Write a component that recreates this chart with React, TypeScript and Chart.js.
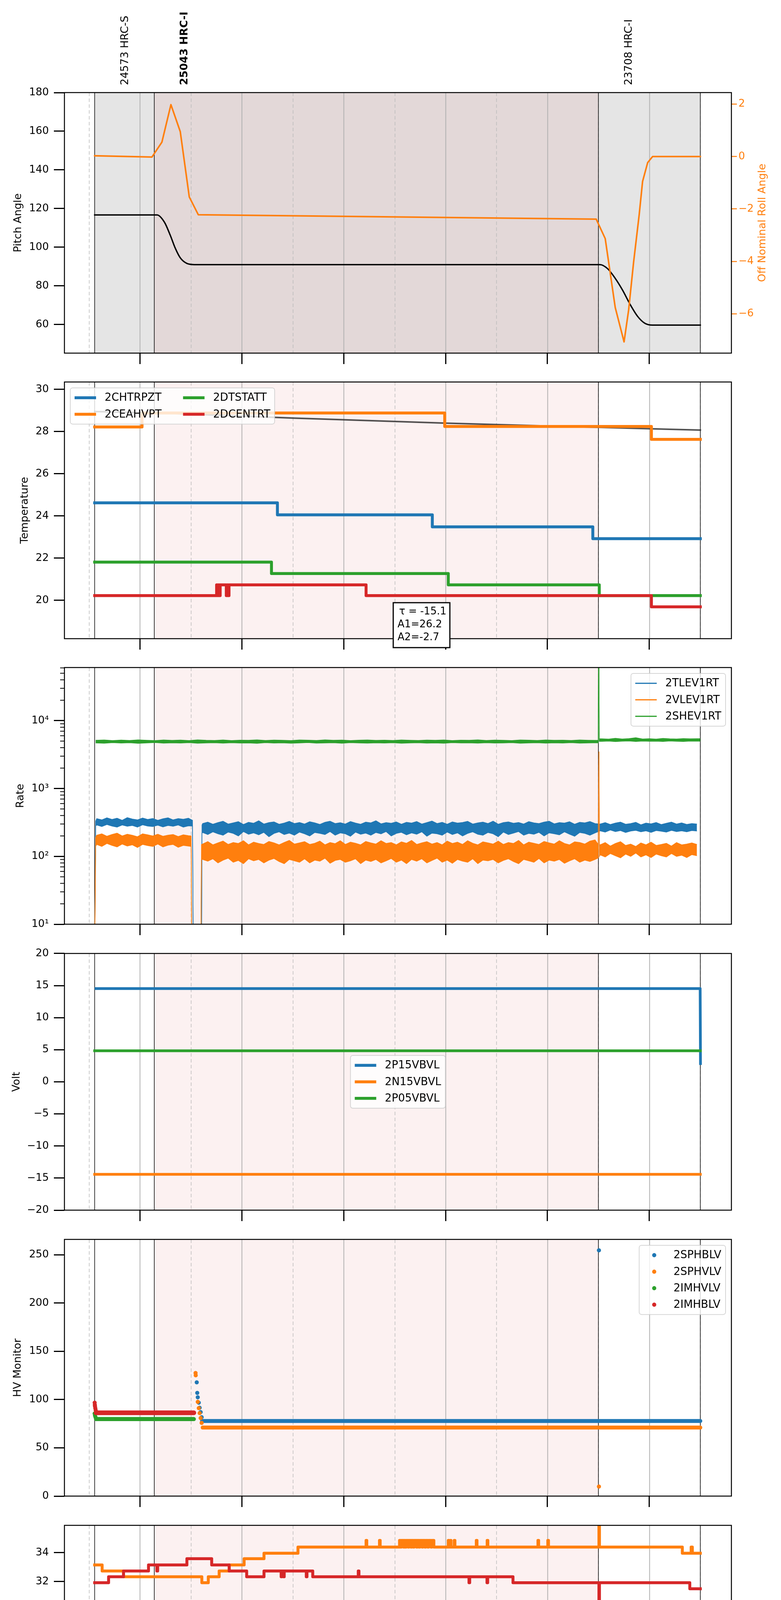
import React, { useEffect, useRef } from 'react';
import { Chart, registerables } from 'chart.js';
import type { ChartConfiguration, Plugin } from 'chart.js';

Chart.register(...registerables);

const FONT = 'DejaVu Sans';
Chart.defaults.font.family = FONT;
Chart.defaults.color = '#000';

const BLUE = '#1f77b4';
const ORANGE = '#ff7f0e';
const GREEN = '#2ca02c';
const RED = '#d62728';

type Pt = [number, number];

// time axis: minutes after 00:00 on 2021-05-23
const X_MIN = 315.6;
const X_MAX = 708.3;
const xTicks = [330, 360, 390, 420, 450, 480, 510, 540, 570, 600, 630, 660, 690];
const xTickLabels = ['30', '06h', '30', '07h', '30', '08h', '30', '09h', '30', '10h', '30', '11h', '30'];
const obsStarts = [333.4, 368.5, 630.0];
const obsEnd = 690;
const obsLabels = ['24573 HRC-S', '25043 HRC-I', '23708 HRC-I'];

// ---- panel 1: attitude
const pitchTicks = [60, 80, 100, 120, 140, 160, 180];
const rollTicks = [-6, -4, -2, 0, 2];
const pitch: Pt[] = [[333.4, 116.7], [370.1, 116.7], [374.5, 112.9], [377.9, 106.2], [380.9, 99.4], [383.8, 94.5], [387.7, 91.6], [392, 91.0], [631, 91.0], [635.4, 88.9], [639.8, 84.0], [644.2, 77.8], [648.6, 70.5], [653, 64.3], [657.4, 60.6], [661.8, 59.7], [690, 59.7]];
const roll: Pt[] = [[333.4, 0.03], [367.1, -0.02], [373.0, 0.55], [378.3, 1.98], [383.8, 0.95], [389.1, -1.54], [394.4, -2.22], [628.7, -2.39], [634.0, -3.13], [639.9, -5.76], [645.1, -7.07], [647.8, -5.85], [650.7, -4.04], [654.0, -2.22], [656.0, -0.95], [659.0, -0.23], [661.9, 0], [690, 0]];

// ---- panel 2: temperature
const tempTicks = [20, 22, 24, 26, 28, 30];
const chtrpzt: Pt[] = [[333.4, 24.62], [441.0, 24.05], [532.2, 23.48], [626.7, 22.92], [690, 22.92]];
const ceahvpt: Pt[] = [[333.4, 28.22], [361.3, 28.88], [539.5, 28.24], [661.2, 27.63], [690, 27.63]];
const dtstatt: Pt[] = [[333.4, 21.81], [437.5, 21.27], [541.6, 20.73], [630.5, 20.22], [690, 20.22]];
const dcentrt: Pt[] = [[333.4, 20.22], [405.2, 20.73], [405.7, 20.22], [406.2, 20.73], [406.8, 20.22], [407.3, 20.73], [410.9, 20.22], [411.4, 20.73], [412.0, 20.22], [412.5, 20.73], [493.2, 20.22], [661.2, 19.69], [690, 19.69]];
const tempFit: Pt[] = [[333.4, 28.95], [389, 28.83], [450, 28.64], [540, 28.40], [630, 28.2], [690, 28.07]];
const fitText = ['\u03c4 = -15.1', 'A1=26.2', 'A2=-2.7'];

// ---- panel 3: rates (upper and lower edge of the noise band)
const rateTicks = [10, 100, 1000, 10000];
const rateTickLabels = ['10\u00b9', '10\u00b2', '10\u00b3', '10\u2074'];
const tlevHiA = [360, 345, 370, 350, 365, 340, 372, 355, 345, 368, 350, 362, 340, 358, 370, 345, 360, 352, 365];
const tlevLoA = [290, 275, 295, 280, 270, 290, 278, 285, 270, 292, 280, 275, 288, 272, 285, 278, 290, 270, 282];
const tlevHiB = [305, 320, 298, 315, 330, 300, 312, 325, 295, 318, 308, 335, 300, 315, 322, 298, 310, 328, 305, 316,
  300, 324, 312, 296, 318, 330, 305, 314, 300, 326, 310, 298, 320, 312, 335, 302, 315, 308, 322, 298,
  318, 310, 326, 300, 315, 332, 305, 318, 298, 322, 310, 316, 328, 300, 312, 320, 305, 330, 298, 315,
  322, 308, 316, 300, 325, 312, 305, 320, 330, 302, 315, 310, 324, 298, 318, 312, 326, 305];
const tlevLoB = [225, 210, 230, 215, 205, 228, 218, 200, 232, 212, 222, 208, 226, 195, 218, 230, 210, 220, 205, 228,
  215, 200, 225, 218, 210, 232, 205, 222, 215, 198, 228, 212, 220, 205, 225, 215, 232, 200, 218, 226,
  208, 222, 212, 230, 198, 220, 215, 205, 228, 210, 222, 200, 218, 230, 212, 205, 225, 215, 195, 228,
  210, 220, 232, 205, 218, 212, 226, 200, 222, 215, 208, 230, 212, 198, 225, 218, 205, 222];
const tlevHiC = [300, 315, 295, 310, 320, 298, 305, 318, 292, 310, 302, 316, 295, 308, 320, 300, 312, 296, 305, 300];
const tlevLoC = [238, 228, 245, 232, 240, 225, 236, 242, 230, 238, 226, 240, 235, 228, 242, 232, 238, 230, 240, 236];
const vlevHiA = [205, 215, 198, 210, 220, 200, 212, 205, 195, 215, 208, 200, 212, 198, 205, 210, 196, 208, 202];
const vlevLoA = [150, 140, 155, 145, 138, 152, 142, 148, 135, 150, 144, 140, 152, 138, 146, 150, 136, 145, 142];
const vlevHiB = [152, 165, 148, 158, 168, 150, 160, 155, 170, 148, 162, 155, 150, 166, 158, 148, 160, 172, 152, 158,
  165, 150, 156, 168, 148, 160, 154, 170, 150, 162, 156, 148, 166, 158, 152, 170, 155, 160, 148, 164,
  156, 172, 150, 158, 165, 152, 160, 148, 168, 155, 162, 150, 170, 156, 148, 164, 158, 152, 168, 150,
  160, 155, 172, 148, 162, 156, 150, 166, 158, 152, 170, 155, 148, 164, 160, 152, 168, 175];
const vlevLoB = [90, 85, 92, 80, 88, 94, 82, 87, 78, 92, 86, 90, 80, 88, 93, 84, 78, 90, 86, 82,
  92, 80, 88, 85, 94, 79, 87, 90, 82, 86, 92, 78, 88, 84, 90, 80, 86, 93, 82, 88,
  78, 90, 85, 92, 80, 87, 94, 82, 88, 79, 90, 85, 82, 92, 78, 88, 86, 90, 80, 87,
  92, 84, 78, 90, 86, 82, 93, 80, 88, 85, 90, 79, 86, 92, 82, 88, 84, 90];
const vlevHiC = [148, 160, 142, 155, 165, 145, 152, 140, 158, 148, 162, 145, 150, 156, 142, 160, 148, 152, 158, 150];
const vlevLoC = [105, 98, 110, 102, 95, 108, 100, 112, 98, 105, 96, 108, 102, 98, 110, 100, 104, 96, 106, 102];
const shevHiA = [5150, 5200, 5100, 5180, 5120, 5220, 5150, 5100, 5200, 5130, 5180, 5100, 5220, 5150, 5120, 5200, 5100, 5170, 5140, 5210,
  5120, 5180, 5150, 5100, 5200, 5160, 5120, 5220, 5140, 5180, 5100, 5160, 5200, 5130, 5170, 5110, 5200, 5150, 5120, 5180,
  5140, 5200, 5100, 5170, 5150, 5210, 5120, 5180, 5140, 5100, 5200, 5160, 5120, 5190, 5140, 5170, 5110, 5200, 5150, 5130];
const shevLoA = [4700, 4650, 4750, 4680, 4720, 4640, 4700, 4760, 4660, 4710, 4680, 4740, 4650, 4700, 4730, 4660, 4720, 4680, 4700, 4640,
  4740, 4680, 4710, 4650, 4700, 4760, 4670, 4700, 4720, 4650, 4740, 4690, 4660, 4710, 4680, 4730, 4650, 4700, 4720, 4670,
  4700, 4650, 4740, 4690, 4710, 4660, 4720, 4680, 4700, 4750, 4650, 4700, 4730, 4670, 4710, 4680, 4740, 4660, 4700, 4720];
const shevHiB = [5400, 5350, 5500, 5380, 5450, 5600, 5380, 5420, 5350, 5480, 5400, 5370, 5450, 5400, 5420];
const shevLoB = [4950, 5000, 4920, 4980, 5020, 4940, 5000, 4960, 4990, 4930, 5010, 4970, 4940, 5000, 4980];

const sampled = (start: number, step: number, vals: number[]): Pt[] => vals.map((v, i) => [start + i * step, v]);

const tlevHi: Pt[] = [[333.4, 3], [334.0, 330], ...sampled(334.6, 3, tlevHiA), [391.0, 340], [391.5, 3], [396.3, 3], [396.6, 290], ...sampled(397, 3, tlevHiB), ...sampled(631, 3, tlevHiC)];
const tlevLo: Pt[] = [[333.4, 3], [334.0, 280], ...sampled(334.6, 3, tlevLoA), [391.0, 280], [391.5, 3], [396.3, 3], [396.6, 220], ...sampled(397, 3, tlevLoB), ...sampled(631, 3, tlevLoC)];
const vlevHi: Pt[] = [[333.4, 3], [334.0, 190], ...sampled(334.6, 3, vlevHiA), [390.2, 200], [390.6, 3], [395.9, 3], [396.3, 150], ...sampled(397, 3, vlevHiB), [629.9, 150], [630.3, 3500], [630.6, 150], ...sampled(631, 3, vlevHiC)];
const vlevLo: Pt[] = [[333.4, 3], [334.0, 140], ...sampled(334.6, 3, vlevLoA), [390.2, 140], [390.6, 3], [395.9, 3], [396.3, 90], ...sampled(397, 3, vlevLoB), [629.9, 95], [630.3, 3500], [630.6, 100], ...sampled(631, 3, vlevLoC)];
const shevHi: Pt[] = [...sampled(334, 5, shevHiA), [629.9, 5150], [630.2, 300000], [630.5, 5400], ...sampled(632, 4, shevHiB), [690, 5420]];
const shevLo: Pt[] = [...sampled(334, 5, shevLoA), [629.9, 4700], [630.2, 300000], [630.5, 4950], ...sampled(632, 4, shevLoB), [690, 4980]];

// ---- panel 4: voltages
const voltTicks = [-20, -15, -10, -5, 0, 5, 10, 15, 20];
const p15vbvl: Pt[] = [[333.4, 14.53], [689.9, 14.53], [690.1, 2.63]];
const n15vbvl: Pt[] = [[333.4, -14.42], [690, -14.42]];
const p05vbvl: Pt[] = [[333.4, 4.83], [690, 4.83]];

// ---- panel 5: HV monitor
const hvTicks = [0, 50, 100, 150, 200, 250];
const sphblvBand: Pt[] = [[396.6, 77.8], [690, 77.8]];
const sphblvPts: Pt[] = [[393.5, 117.9], [393.8, 107.0], [394.1, 102.4], [394.7, 96.8], [395.2, 91.6], [395.8, 87.0], [396.4, 81.8], [630.3, 254.7]];
const sphvlvBand: Pt[] = [[397.0, 71.0], [690, 71.0]];
const sphvlvPts: Pt[] = [[392.8, 127.6], [392.9, 125.2], [394.1, 97.7], [394.7, 91.2], [395.2, 86.0], [395.8, 80.9], [396.4, 75.9], [630.3, 9.9]];
const imhvlvBand: Pt[] = [[334.2, 79.8], [391.8, 79.8]];
const imhvlvPts: Pt[] = [[333.4, 85.6], [333.6, 83.5], [333.9, 81.8]];
const imhblvBand: Pt[] = [[334.2, 86.3], [391.8, 86.3]];
const imhblvPts: Pt[] = [[333.4, 96.8], [333.5, 94.5], [333.6, 93.0], [333.8, 91.0], [334.0, 89.0]];

// ---- panel 6: detector temperatures
const detTicks = [20, 22, 24, 26, 28, 30, 32, 34];
const spinatm: Pt[] = [[333.4, 19.61], [690, 19.61]];
const sphvatm: Pt[] = [[333.4, 33.15], [337.8, 32.73], [350.4, 32.33], [396.5, 31.92], [400.3, 32.33], [406.7, 32.73], [412.6, 33.15], [421.4, 33.58], [433.1, 33.96], [453.1, 34.39],
  [493.2, 34.85], [493.6, 34.39], [501.1, 34.85], [501.5, 34.39],
  [512.9, 34.85], [513.5, 34.39], [514.0, 34.85], [515.2, 34.39], [515.6, 34.85], [516.3, 34.39], [516.8, 34.85], [518.0, 34.39], [518.4, 34.85], [519.6, 34.39], [520.0, 34.85], [521.0, 34.39], [521.5, 34.85], [522.9, 34.39], [523.3, 34.85], [524.4, 34.39], [524.9, 34.85], [526.2, 34.39], [526.6, 34.85], [527.8, 34.39], [528.3, 34.85], [529.5, 34.39], [530.0, 34.85], [531.4, 34.39], [531.9, 34.85], [533.1, 34.39],
  [541.6, 34.85], [542.0, 34.39], [542.8, 34.85], [543.2, 34.39], [545.1, 34.85], [545.5, 34.39],
  [558.1, 34.85], [558.5, 34.39], [564.5, 34.85], [564.9, 34.39], [594.4, 34.85], [594.8, 34.39], [600.2, 34.85], [600.6, 34.39],
  [630.3, 40], [630.6, 34.39], [679.4, 33.96], [684.6, 34.39], [685.3, 33.96], [690, 33.96]];
const iminatm: Pt[] = [[333.4, 21.0], [579.7, 20.3], [580.3, 21.0], [581.2, 20.3], [581.8, 21.0], [583.0, 20.3], [583.6, 21.0], [585.2, 20.3], [690, 20.3]];
const imhvatm: Pt[] = [[333.4, 31.92], [341.6, 32.33], [350.4, 32.73], [365.1, 33.15], [370.0, 32.73], [370.5, 33.15], [387.7, 33.58], [402.3, 33.15], [412.6, 32.73], [422.9, 32.33], [433.1, 32.73],
  [443.2, 32.33], [443.6, 32.73], [444.6, 32.33], [445.0, 32.73], [458.0, 32.33], [458.4, 32.73], [461.8, 32.33], [488.6, 32.73], [489.0, 32.33],
  [553.8, 31.92], [554.2, 32.33], [564.4, 31.92], [564.8, 32.33], [579.7, 31.92], [630.3, 10], [630.6, 31.92], [683.8, 31.5], [690, 31.5]];

// ---- panel 7: FEA temperatures
const feaTicks = [16, 18, 20, 22, 24, 26];
const fhtrmzt: Pt[] = [[333.4, 24.63], [396.5, 24.05], [453.1, 23.49], [510.8, 22.93], [576.8, 22.37], [664.8, 21.8], [690, 21.8]];
const fradpyt: Pt[] = [[333.4, 20.21], [346.0, 19.68], [387.1, 19.16], [424.3, 18.67], [471.2, 18.15], [527.5, 17.66], [590.9, 17.16], [648.6, 17.66], [653.6, 17.16], [675.0, 16.67], [690, 16.67]];
const fepratm: Pt[] = [[333.4, 26.18], [418.4, 25.4], [510.8, 24.63], [607.8, 23.88], [608.3, 24.63], [608.8, 23.88], [609.4, 24.63], [610.0, 23.88], [630.3, 30], [630.6, 23.88], [690, 23.88]];
const fe00atm: Pt[] = [[333.4, 23.96], [336.3, 24.63], [336.7, 23.96], [339.3, 25.34], [339.7, 23.96], [341.6, 22.95], [342.0, 23.96], [342.8, 23.63], [343.2, 23.96],
  [349.8, 24.3], [350.2, 23.96], [361.0, 25.34], [361.4, 23.96], [386.2, 24.3], [386.6, 23.96], [388.3, 23.63], [388.7, 23.96], [397.3, 23.63],
  [404.4, 23.96], [404.8, 23.63], [407.9, 23.96], [408.3, 23.63], [427.8, 22.63], [428.2, 23.63], [439.0, 22.95], [439.4, 23.63], [440.4, 23.3],
  [442.8, 23.63], [443.2, 23.3], [445.7, 23.63], [446.1, 23.3], [464.5, 22.95], [464.9, 23.3], [475.0, 23.65], [475.4, 23.3], [478.3, 22.95], [478.7, 23.3],
  [483.0, 23.0], [489.4, 24.0], [489.8, 23.0], [492.3, 23.3], [492.7, 23.0], [502.0, 23.65], [502.4, 23.0], [505.2, 21.66], [505.6, 23.0],
  [527.0, 22.68], [536.9, 23.0], [537.3, 22.68], [539.5, 23.0], [539.9, 22.68], [550.4, 22.3], [550.8, 22.68], [552.7, 23.0], [553.1, 22.68],
  [556.3, 22.3], [556.7, 22.68], [566.5, 23.37], [566.9, 22.68], [569.2, 21.66], [569.6, 22.68], [575.3, 22.37],
  [585.0, 22.7], [585.4, 22.37], [587.9, 22.7], [588.3, 22.37], [589.7, 21.95], [590.1, 22.37], [591.1, 23.37], [591.5, 22.37],
  [593.8, 23.0], [594.2, 22.37], [599.1, 21.95], [599.5, 22.37], [628.1, 22.0], [628.6, 22.37], [629.2, 22.0], [630.3, 10], [630.6, 22.0], [690, 22.0]];

// ---------------------------------------------------------------

const toXY = (pts: Pt[]) => pts.map(([x, y]) => ({ x, y }));
const fmt = (v: number) => (v < 0 ? '\u2212' + Math.abs(v) : String(v));

function line(pts: Pt[], color: string, width: number, extra: any = {}) {
  return {
    data: toXY(pts),
    borderColor: color,
    backgroundColor: color,
    borderWidth: width,
    pointRadius: 0,
    fill: false,
    clip: 0,
    borderJoinStyle: 'round',
    borderCapStyle: 'square',
    ...extra,
  };
}
const step = (pts: Pt[], color: string, width = 7.5) => line(pts, color, width, { stepped: 'before' });
const dots = (pts: Pt[], color: string) => ({
  data: toXY(pts), showLine: false, pointRadius: 5.3, pointBorderWidth: 0,
  pointBackgroundColor: color, backgroundColor: color, borderColor: color, clip: 0,
});
// noise band: upper edge filled down to the lower edge
const band = (hi: Pt[], lo: Pt[], color: string) => [
  line(hi, color, 1.6, { fill: '+1', borderCapStyle: 'butt', borderJoinStyle: 'miter' }),
  line(lo, color, 1.6, { borderCapStyle: 'butt', borderJoinStyle: 'miter' }),
];

function xAxis(labels: boolean, height: number) {
  return {
    type: 'linear',
    min: X_MIN,
    max: X_MAX,
    position: 'bottom',
    afterBuildTicks: (s: any) => { s.ticks = xTicks.map((v) => ({ value: v })); },
    afterFit: (s: any) => { s.height = height; },
    border: { display: false },
    grid: {
      drawOnChartArea: false,
      tickLength: 28,
      tickWidth: 3,
      tickColor: (c: any) => (c.tick && c.tick.value % 60 === 0 ? '#000' : 'rgba(0,0,0,0)'),
    },
    ticks: {
      autoSkip: false,
      maxRotation: 0,
      padding: -23.5,
      color: '#000',
      font: (c: any) => (c.tick && c.tick.value % 60 === 0
        ? { family: FONT, size: 26.5, lineHeight: 1.13 }
        : { family: FONT, size: 18, lineHeight: 1.2 }),
      callback: (v: any) => {
        if (!labels) return '';
        const i = xTicks.indexOf(Number(v));
        if (i < 0) return '';
        return Number(v) % 60 === 0 ? ['', xTickLabels[i]] : xTickLabels[i];
      },
    },
    title: labels
      ? { display: true, text: '2021-05-23 (143)', color: '#000', font: { family: FONT, size: 36 }, padding: { top: 0, bottom: 0 } }
      : { display: false },
  };
}

function yAxis(min: number, max: number, ticks: number[], title: string, titlePad: number, type = 'linear', labels?: string[]) {
  return {
    type,
    min,
    max,
    position: 'left',
    afterBuildTicks: (s: any) => { s.ticks = ticks.map((v) => ({ value: v })); },
    afterFit: (s: any) => { s.width = 165; },
    border: { display: false },
    grid: { drawOnChartArea: false, tickLength: 27, tickWidth: 3, tickColor: '#000' },
    ticks: {
      autoSkip: false,
      padding: 13,
      color: '#000',
      font: { family: FONT, size: 26.5 },
      callback: (v: any) => {
        if (labels) { const i = ticks.indexOf(Number(v)); return i < 0 ? '' : labels[i]; }
        return fmt(Number(v));
      },
    },
    title: { display: true, text: title, color: '#000', font: { family: FONT, size: 27 }, padding: { top: titlePad, bottom: 0 } },
  };
}

function roundRect(ctx: CanvasRenderingContext2D, x: number, y: number, w: number, h: number, r: number) {
  ctx.beginPath();
  ctx.moveTo(x + r, y);
  ctx.lineTo(x + w - r, y);
  ctx.arcTo(x + w, y, x + w, y + r, r);
  ctx.lineTo(x + w, y + h - r);
  ctx.arcTo(x + w, y + h, x + w - r, y + h, r);
  ctx.lineTo(x + r, y + h);
  ctx.arcTo(x, y + h, x, y + h - r, r);
  ctx.lineTo(x, y + r);
  ctx.arcTo(x, y, x + r, y, r);
  ctx.closePath();
}

// shaded observation spans, time grid, obs boundaries and the axes frame
function decorPlugin(topPanel: boolean): Plugin {
  return {
    id: 'decor',
    beforeDatasetsDraw(chart: any) {
      const { ctx, chartArea: a } = chart;
      const px = (t: number) => chart.scales.x.getPixelForValue(t);
      ctx.save();
      ctx.beginPath();
      ctx.rect(a.left, a.top, a.width, a.height);
      ctx.clip();
      if (topPanel) {
        ctx.fillStyle = '#e5e5e5';
        ctx.fillRect(px(obsStarts[0]), a.top, px(obsEnd) - px(obsStarts[0]), a.height);
      }
      ctx.fillStyle = 'rgba(214,39,40,0.065)';
      ctx.fillRect(px(obsStarts[1]), a.top, px(obsStarts[2]) - px(obsStarts[1]), a.height);
      for (const t of xTicks) {
        const x = Math.round(px(t)) + 0.5;
        ctx.beginPath();
        if (t % 60 === 0) {
          ctx.setLineDash([]);
          ctx.strokeStyle = '#b0b0b0';
          ctx.lineWidth = 2;
        } else {
          ctx.setLineDash([9, 6]);
          ctx.strokeStyle = '#bababa';
          ctx.lineWidth = 1.5;
        }
        ctx.moveTo(x, a.top);
        ctx.lineTo(x, a.bottom);
        ctx.stroke();
      }
      ctx.setLineDash([]);
      ctx.strokeStyle = '#000';
      ctx.lineWidth = 1.5;
      for (const t of [...obsStarts, obsEnd]) {
        const x = px(t);
        ctx.beginPath();
        ctx.moveTo(x, a.top);
        ctx.lineTo(x, a.bottom);
        ctx.stroke();
      }
      ctx.restore();
    },
    afterDatasetsDraw(chart: any) {
      const { ctx, chartArea: a } = chart;
      ctx.save();
      ctx.strokeStyle = '#000';
      ctx.lineWidth = 2.5;
      ctx.strokeRect(a.left, a.top, a.width, a.height);
      ctx.restore();
    },
  };
}

type LegendItem = { label: string; color: string; lw?: number; dot?: boolean };

function legendPlugin(items: LegendItem[], loc: 'upper left' | 'upper right' | 'center' | 'center right', ncol = 1): Plugin {
  return {
    id: 'mplLegend',
    afterDraw(chart: any) {
      const { ctx, chartArea: a } = chart;
      const em = 27.5;
      const pad = 0.4 * em, rowH = 28.5, gap = 0.5 * em, hl = 2 * em, hp = 0.8 * em, cs = 2 * em, ax = 15;
      ctx.save();
      ctx.font = `${em}px ${FONT}`;
      const nrow = Math.ceil(items.length / ncol);
      const colW: number[] = [];
      for (let c = 0; c < ncol; c++) {
        let w = 0;
        for (let r = 0; r < nrow; r++) {
          const it = items[c * nrow + r];
          if (it) w = Math.max(w, ctx.measureText(it.label).width);
        }
        colW.push(hl + hp + w);
      }
      const bw = 2 * pad + colW.reduce((s, w) => s + w, 0) + (ncol - 1) * cs;
      const bh = 2 * pad + nrow * rowH + (nrow - 1) * gap;
      let bx = a.left + ax;
      let by = a.top + ax;
      if (loc === 'upper right' || loc === 'center right') bx = a.right - ax - bw;
      if (loc === 'center') bx = (a.left + a.right) / 2 - bw / 2;
      if (loc === 'center' || loc === 'center right') by = (a.top + a.bottom) / 2 - bh / 2;
      roundRect(ctx, bx, by, bw, bh, 6);
      ctx.fillStyle = 'rgba(255,255,255,0.8)';
      ctx.fill();
      ctx.strokeStyle = 'rgba(204,204,204,0.8)';
      ctx.lineWidth = 2;
      ctx.stroke();
      ctx.textAlign = 'left';
      ctx.textBaseline = 'middle';
      let cx = bx + pad;
      for (let c = 0; c < ncol; c++) {
        for (let r = 0; r < nrow; r++) {
          const it = items[c * nrow + r];
          if (!it) continue;
          const cy = by + pad + r * (rowH + gap) + rowH / 2;
          if (it.dot) {
            ctx.fillStyle = it.color;
            ctx.beginPath();
            ctx.arc(cx + hl / 2, cy, 5.3, 0, Math.PI * 2);
            ctx.fill();
          } else {
            ctx.strokeStyle = it.color;
            ctx.lineWidth = it.lw ?? 7.5;
            ctx.beginPath();
            ctx.moveTo(cx, cy);
            ctx.lineTo(cx + hl, cy);
            ctx.stroke();
          }
          ctx.fillStyle = '#000';
          ctx.fillText(it.label, cx + hl + hp, cy + 1);
        }
        cx += colW[c] + cs;
      }
      ctx.restore();
    },
  };
}

const topLabelsPlugin: Plugin = {
  id: 'topLabels',
  afterDraw(chart: any) {
    const { ctx, chartArea: a } = chart;
    const xs = chart.scales.x;
    ctx.save();
    ctx.fillStyle = '#000';
    ctx.textAlign = 'left';
    ctx.textBaseline = 'middle';
    obsStarts.forEach((s, i) => {
      ctx.save();
      ctx.translate(xs.getPixelForValue(s + 18), a.top - 19);
      ctx.rotate(-Math.PI / 2);
      ctx.font = `${i === 1 ? 'bold ' : ''}27px ${FONT}`;
      ctx.fillText(obsLabels[i], 0, 0);
      ctx.restore();
    });
    ctx.save();
    ctx.translate(1953, (a.top + a.bottom) / 2);
    ctx.rotate(-Math.PI / 2);
    ctx.textAlign = 'center';
    ctx.fillStyle = ORANGE;
    ctx.font = `27px ${FONT}`;
    ctx.fillText('Off Nominal Roll Angle', 0, 0);
    ctx.restore();
    ctx.restore();
  },
};

const fitBoxPlugin: Plugin = {
  id: 'fitBox',
  afterDraw(chart: any) {
    const { ctx, chartArea: a } = chart;
    const x = a.left + 842;
    const y = a.top + 565;
    ctx.save();
    ctx.fillStyle = '#fff';
    ctx.fillRect(x, y, 145, 115);
    ctx.strokeStyle = '#000';
    ctx.lineWidth = 3;
    ctx.strokeRect(x, y, 145, 115);
    ctx.fillStyle = '#000';
    ctx.font = `26px ${FONT}`;
    ctx.textAlign = 'left';
    ctx.textBaseline = 'middle';
    fitText.forEach((t, i) => ctx.fillText(t, x + (i === 0 ? 15 : 11), y + 23 + i * 33));
    ctx.restore();
  },
};

const logMinorPlugin: Plugin = {
  id: 'logMinor',
  afterDraw(chart: any) {
    const { ctx, chartArea: a } = chart;
    const ys = chart.scales.y;
    ctx.save();
    ctx.strokeStyle = '#000';
    ctx.lineWidth = 2;
    for (const d of rateTicks) {
      for (let m = 2; m <= 9; m++) {
        const v = d * m;
        if (v > ys.max) continue;
        const y = ys.getPixelForValue(v);
        ctx.beginPath();
        ctx.moveTo(a.left - 11, y);
        ctx.lineTo(a.left, y);
        ctx.stroke();
      }
    }
    ctx.restore();
  },
};

interface PanelSpec {
  areaTop: number;
  areaH: number;
  padTop: number;
  xH: number;
  config: () => ChartConfiguration;
}

function baseOptions(padTop: number, padRight: number, scales: any): any {
  return {
    responsive: false,
    animation: false,
    devicePixelRatio: 1,
    events: [],
    layout: { padding: { left: 0, right: padRight, top: padTop, bottom: 0 } },
    plugins: { legend: { display: false }, tooltip: { enabled: false } },
    scales,
  };
}

function ordered(ds: any[]) {
  return ds.map((d, i) => ({ ...d, order: ds.length - i }));
}

const panels: PanelSpec[] = [
  {
    areaTop: 237, areaH: 667, padTop: 237, xH: 40,
    config: () => ({
      type: 'line',
      data: {
        datasets: ordered([
          line(pitch, '#000', 3.5, { yAxisID: 'y', cubicInterpolationMode: 'monotone' }),
          line(roll, ORANGE, 4, { yAxisID: 'y1' }),
        ]),
      },
      options: baseOptions(237, 0, {
        x: xAxis(false, 40),
        y: yAxis(45.2, 180, pitchTicks, 'Pitch Angle', 31),
        y1: {
          type: 'linear', min: -7.5, max: 2.44, position: 'right',
          afterBuildTicks: (s: any) => { s.ticks = rollTicks.map((v) => ({ value: v })); },
          afterFit: (s: any) => { s.width = 127; },
          border: { display: false },
          grid: { drawOnChartArea: false, tickLength: 14, tickWidth: 2.5, tickColor: ORANGE },
          ticks: { autoSkip: false, padding: 4, color: ORANGE, font: { family: FONT, size: 26.5 }, callback: (v: any) => fmt(Number(v)) },
        },
      }),
      plugins: [decorPlugin(true), topLabelsPlugin],
    }) as any,
  },
  {
    areaTop: 969, areaH: 666, padTop: 20, xH: 40,
    config: () => ({
      type: 'line',
      data: {
        datasets: ordered([
          line(tempFit, 'rgba(40,40,40,0.8)', 4, { cubicInterpolationMode: 'monotone' }),
          step(chtrpzt, BLUE),
          step(ceahvpt, ORANGE),
          step(dtstatt, GREEN),
          step(dcentrt, RED),
        ]),
      },
      options: baseOptions(20, 127, { x: xAxis(false, 40), y: yAxis(18.18, 30.35, tempTicks, 'Temperature', 48) }),
      plugins: [decorPlugin(false), fitBoxPlugin, legendPlugin([
        { label: '2CHTRPZT', color: BLUE }, { label: '2CEAHVPT', color: ORANGE },
        { label: '2DTSTATT', color: GREEN }, { label: '2DCENTRT', color: RED },
      ], 'upper left', 2)],
    }) as any,
  },
  {
    areaTop: 1700, areaH: 666, padTop: 20, xH: 40,
    config: () => ({
      type: 'line',
      data: {
        datasets: ordered([
          ...band(tlevHi, tlevLo, BLUE),
          ...band(vlevHi, vlevLo, ORANGE),
          ...band(shevHi, shevLo, GREEN),
        ]),
      },
      options: baseOptions(20, 127, { x: xAxis(false, 40), y: yAxis(10, 60700, rateTicks, 'Rate', 37, 'logarithmic', rateTickLabels) }),
      plugins: [decorPlugin(false), logMinorPlugin, legendPlugin([
        { label: '2TLEV1RT', color: BLUE, lw: 3 }, { label: '2VLEV1RT', color: ORANGE, lw: 3 }, { label: '2SHEV1RT', color: GREEN, lw: 3 },
      ], 'upper right')],
    }) as any,
  },
  {
    areaTop: 2432, areaH: 666, padTop: 20, xH: 40,
    config: () => ({
      type: 'line',
      data: {
        datasets: ordered([
          line(p15vbvl, BLUE, 7, { borderCapStyle: 'butt' }),
          line(n15vbvl, ORANGE, 7),
          line(p05vbvl, GREEN, 7),
        ]),
      },
      options: baseOptions(20, 127, { x: xAxis(false, 40), y: yAxis(-20, 20, voltTicks, 'Volt', 27) }),
      plugins: [decorPlugin(false), legendPlugin([
        { label: '2P15VBVL', color: BLUE }, { label: '2N15VBVL', color: ORANGE }, { label: '2P05VBVL', color: GREEN },
      ], 'center')],
    }) as any,
  },
  {
    areaTop: 3164, areaH: 666, padTop: 20, xH: 40,
    config: () => ({
      type: 'line',
      data: {
        datasets: ordered([
          line(sphblvBand, BLUE, 10, { borderCapStyle: 'round' }),
          dots(sphblvPts, BLUE),
          line(sphvlvBand, ORANGE, 10, { borderCapStyle: 'round' }),
          dots(sphvlvPts, ORANGE),
          line(imhvlvBand, GREEN, 10.5, { borderCapStyle: 'round' }),
          dots(imhvlvPts, GREEN),
          line(imhblvBand, RED, 12, { borderCapStyle: 'round' }),
          dots(imhblvPts, RED),
        ]),
      },
      options: baseOptions(20, 127, { x: xAxis(false, 40), y: yAxis(0, 266, hvTicks, 'HV Monitor', 30) }),
      plugins: [decorPlugin(false), legendPlugin([
        { label: '2SPHBLV', color: BLUE, dot: true }, { label: '2SPHVLV', color: ORANGE, dot: true },
        { label: '2IMHVLV', color: GREEN, dot: true }, { label: '2IMHBLV', color: RED, dot: true },
      ], 'upper right')],
    }) as any,
  },
  {
    areaTop: 3896, areaH: 666, padTop: 20, xH: 40,
    config: () => ({
      type: 'line',
      data: {
        datasets: ordered([
          step(spinatm, BLUE),
          step(sphvatm, ORANGE),
          step(iminatm, GREEN),
          step(imhvatm, RED),
        ]),
      },
      options: baseOptions(20, 127, { x: xAxis(false, 40), y: yAxis(18.13, 35.89, detTicks, 'Detector Temp', 48) }),
      plugins: [decorPlugin(false), legendPlugin([
        { label: '2SPINATM', color: BLUE }, { label: '2SPHVATM', color: ORANGE },
        { label: '2IMINATM', color: GREEN }, { label: '2IMHVATM', color: RED },
      ], 'center right')],
    }) as any,
  },
  {
    areaTop: 4627, areaH: 665, padTop: 20, xH: 106,
    config: () => ({
      type: 'line',
      data: {
        datasets: ordered([
          step(fhtrmzt, BLUE),
          step(fradpyt, ORANGE),
          step(fepratm, GREEN),
          step(fe00atm, RED),
        ]),
      },
      options: baseOptions(20, 127, { x: xAxis(true, 106), y: yAxis(15.65, 27.68, feaTicks, 'FEA Temp', 48) }),
      plugins: [decorPlugin(false), legendPlugin([
        { label: '2FHTRMZT', color: BLUE }, { label: '2FRADPYT', color: ORANGE },
        { label: '2FEPRATM', color: GREEN }, { label: '2FE00ATM', color: RED },
      ], 'upper right')],
    }) as any,
  },
];

function Panel({ spec }: { spec: PanelSpec }) {
  const ref = useRef<HTMLCanvasElement | null>(null);
  const height = spec.padTop + spec.areaH + spec.xH;
  const top = spec.areaTop - spec.padTop;

  useEffect(() => {
    if (!ref.current) return;
    const chart = new Chart(ref.current, spec.config());
    return () => {
      chart.destroy();
    };
  }, [spec]);

  return (
    <canvas
      ref={ref}
      width={2000}
      height={height}
      style={{ position: 'absolute', left: 0, top, width: 2000, height }}
    />
  );
}

export default function App() {
  return (
    <div style={{ position: 'absolute', left: 0, top: 0, width: 2000, height: 5400, background: '#fff', overflow: 'hidden' }}>
      {panels.map((p, i) => (
        <Panel key={i} spec={p} />
      ))}
    </div>
  );
}
